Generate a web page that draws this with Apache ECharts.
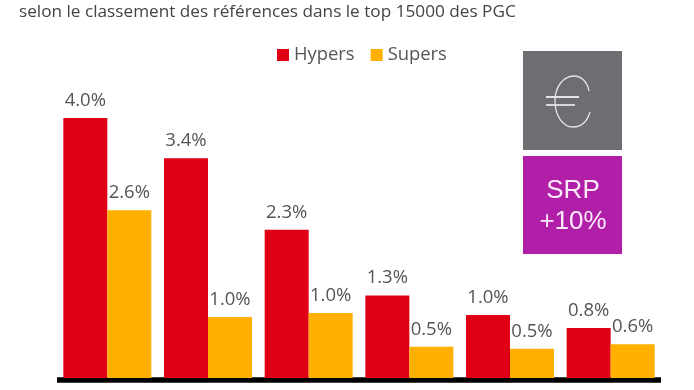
<!DOCTYPE html>
<html><head><meta charset="utf-8">
<style>html,body{margin:0;padding:0;background:#fff}#c{width:694px;height:390px}</style>
<script src="https://cdn.jsdelivr.net/npm/echarts@6/dist/echarts.min.js"></script>
</head><body><div id="c"></div>
<script>
const categories = ['1','2','3','4','5','6'];
const hypers = [4.0, 3.38, 2.28, 1.27, 0.97, 0.77];
const supers = [2.58, 0.94, 1.0, 0.48, 0.45, 0.52];
const hypersLabels = ['4.0%','3.4%','2.3%','1.3%','1.0%','0.8%'];
const supersLabels = ['2.6%','1.0%','1.0%','0.5%','0.5%','0.6%'];
const titleText = 'selon le classement des références dans le top 15000 des PGC';
const font = '"Open Sans"';
const labelOf = arr => ({show:true, position:'top', distance:8, color:'#555', fontFamily:font, fontSize:18.5,
  formatter:p => arr[p.dataIndex]});
const euroStroke = {fill:null, stroke:'#e4e4e6', lineWidth:1.3};
const chart = echarts.init(document.getElementById('c'), null, {renderer:'canvas'});
chart.setOption({
  animation:false,
  title:{text:titleText, left:14, top:-1, textStyle:{color:'#444', fontFamily:font, fontSize:17.2, fontWeight:'normal'}},
  legend:{left:272, top:41, itemWidth:12, itemHeight:12, itemGap:16, icon:'rect',
    textStyle:{color:'#555', fontFamily:font, fontSize:18.4}, data:['Hypers','Supers']},
  grid:{left:57, right:33, top:53, bottom:12},
  xAxis:{type:'category', data:categories, offset:2, axisTick:{show:false}, axisLabel:{show:false},
    axisLine:{onZero:false, lineStyle:{color:'#000', width:5.5, cap:'butt'}}},
  yAxis:{type:'value', min:0, max:5, show:false, splitLine:{show:false}},
  series:[
    {name:'Hypers', type:'bar', data:hypers, barWidth:44, barGap:0, itemStyle:{color:'#df0015'}, label:labelOf(hypersLabels)},
    {name:'Supers', type:'bar', data:supers, barWidth:44, itemStyle:{color:'#ffb000'}, label:labelOf(supersLabels)}
  ],
  graphic:[
    {type:'rect', shape:{x:523,y:51,width:99,height:99}, style:{fill:'#6d6e71'}},
    {type:'rect', shape:{x:523,y:156,width:99,height:98}, style:{fill:'#b11ea8'}},
    {type:'bezierCurve', shape:{x1:589,y1:91,cpx1:587,cpy1:81,cpx2:581,cpy2:76,x2:574,y2:76}, style:euroStroke},
    {type:'bezierCurve', shape:{x1:574,y1:76,cpx1:563,cpy1:76,cpx2:555,cpy2:87,x2:555,y2:101}, style:euroStroke},
    {type:'bezierCurve', shape:{x1:555,y1:101,cpx1:555,cpy1:116,cpx2:563,cpy2:127,x2:573,y2:127}, style:euroStroke},
    {type:'bezierCurve', shape:{x1:573,y1:127,cpx1:581,cpy1:127,cpx2:587,cpy2:122,x2:590,y2:112}, style:euroStroke},
    {type:'line', shape:{x1:546,y1:97,x2:579,y2:97}, style:{stroke:'#e4e4e6', lineWidth:1.8}},
    {type:'line', shape:{x1:546,y1:105,x2:575,y2:105}, style:{stroke:'#e4e4e6', lineWidth:1.8}},
    {type:'text', x:573, y:191, style:{text:'SRP', fill:'#fbeafa', font:'26px "Liberation Sans"', textAlign:'center', textVerticalAlign:'middle'}},
    {type:'text', x:573, y:222, style:{text:'+10%', fill:'#fbeafa', font:'26px "Liberation Sans"', textAlign:'center', textVerticalAlign:'middle'}}
  ]
});
</script></body></html>
